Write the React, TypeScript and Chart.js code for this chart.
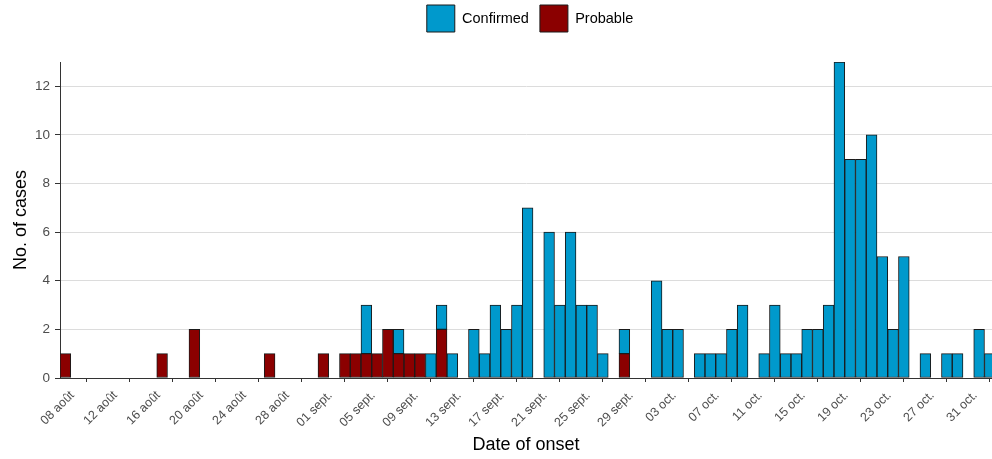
import React, { useEffect, useRef } from "react";
import { Chart, registerables } from "chart.js";

Chart.register(...registerables);

// One entry per day of onset, from 08 Aug to 02 Nov
const dayLabels = [
  "08 août", "09 août", "10 août", "11 août", "12 août", "13 août", "14 août", "15 août",
  "16 août", "17 août", "18 août", "19 août", "20 août", "21 août", "22 août", "23 août",
  "24 août", "25 août", "26 août", "27 août", "28 août", "29 août", "30 août", "31 août",
  "01 sept.", "02 sept.", "03 sept.", "04 sept.", "05 sept.", "06 sept.", "07 sept.", "08 sept.",
  "09 sept.", "10 sept.", "11 sept.", "12 sept.", "13 sept.", "14 sept.", "15 sept.", "16 sept.",
  "17 sept.", "18 sept.", "19 sept.", "20 sept.", "21 sept.", "22 sept.", "23 sept.", "24 sept.",
  "25 sept.", "26 sept.", "27 sept.", "28 sept.", "29 sept.", "30 sept.",
  "01 oct.", "02 oct.", "03 oct.", "04 oct.", "05 oct.", "06 oct.", "07 oct.", "08 oct.",
  "09 oct.", "10 oct.", "11 oct.", "12 oct.", "13 oct.", "14 oct.", "15 oct.", "16 oct.",
  "17 oct.", "18 oct.", "19 oct.", "20 oct.", "21 oct.", "22 oct.", "23 oct.", "24 oct.",
  "25 oct.", "26 oct.", "27 oct.", "28 oct.", "29 oct.", "30 oct.", "31 oct.",
  "01 nov.", "02 nov.",
];

const probable = [
  1, 0, 0, 0, 0, 0, 0, 0, 0, 1,
  0, 0, 2, 0, 0, 0, 0, 0, 0, 1,
  0, 0, 0, 0, 1, 0, 1, 1, 1, 1,
  2, 1, 1, 1, 0, 2, 0, 0, 0, 0,
  0, 0, 0, 0, 0, 0, 0, 0, 0, 0,
  0, 0, 1, 0, 0, 0, 0, 0, 0, 0,
  0, 0, 0, 0, 0, 0, 0, 0, 0, 0,
  0, 0, 0, 0, 0, 0, 0, 0, 0, 0,
  0, 0, 0, 0, 0, 0, 0,
];

const confirmed = [
  0, 0, 0, 0, 0, 0, 0, 0, 0, 0,
  0, 0, 0, 0, 0, 0, 0, 0, 0, 0,
  0, 0, 0, 0, 0, 0, 0, 0, 2, 0,
  0, 1, 0, 0, 1, 1, 1, 0, 2, 1,
  3, 2, 3, 7, 0, 6, 3, 6, 3, 3,
  1, 0, 1, 0, 0, 4, 2, 2, 0, 1,
  1, 1, 2, 3, 0, 1, 3, 1, 1, 2,
  2, 3, 13, 9, 9, 10, 5, 2, 5, 0,
  1, 0, 1, 1, 0, 2, 1,
];

const tickLabels = [
  "08 août", "12 août", "16 août", "20 août", "24 août", "28 août",
  "01 sept.", "05 sept.", "09 sept.", "13 sept.", "17 sept.", "21 sept.", "25 sept.", "29 sept.",
  "03 oct.", "07 oct.", "11 oct.", "15 oct.", "19 oct.", "23 oct.", "27 oct.", "31 oct.",
];

const FONT = "'Liberation Sans', Arial, Helvetica, sans-serif";

export default function App() {
  const ref = useRef<HTMLCanvasElement | null>(null);

  useEffect(() => {
    document.body.style.margin = "0";
    const canvas = ref.current;
    if (!canvas) return;

    const toPoints = (arr: number[]) =>
      arr.map((v, i) => ({ x: i, y: v === 0 ? null : v }));

    const tickIdx = tickLabels.map((t) => dayLabels.indexOf(t));

    const legendPlacement = {
      id: "legendPlacement",
      beforeInit(chart: any) {
        const legend = chart.legend;
        if (!legend) return;
        const orig = legend.fit;
        legend.fit = function () {
          orig.call(this);
          this.height = 62;
        };
      },
      afterLayout(chart: any) {
        const legend = chart.legend;
        if (!legend) return;
        legend.top -= 6;
        legend.left += 4;
        legend.right += 4;
      },
    };

    const chart = new Chart(canvas, {
      type: "bar",
      data: {
        datasets: [
          {
            label: "Probable",
            data: toPoints(probable) as any,
            backgroundColor: "#8B0000",
            borderColor: "#1a1a1a",
            borderWidth: 1,
            borderSkipped: false,
            barPercentage: 1,
            categoryPercentage: 1,
          },
          {
            label: "Confirmed",
            data: toPoints(confirmed) as any,
            backgroundColor: "#0099CC",
            borderColor: "#1a1a1a",
            borderWidth: 1,
            borderSkipped: false,
            barPercentage: 1,
            categoryPercentage: 1,
          },
        ],
      },
      options: {
        animation: false,
        responsive: false,
        maintainAspectRatio: false,
        layout: { padding: 0 },
        plugins: {
          legend: {
            position: "top",
            fullSize: false,
            reverse: true,
            labels: {
              boxWidth: 28,
              boxHeight: 27,
              padding: 11,
              color: "#000",
              font: { family: FONT, size: 14.5 },
            },
          },
          tooltip: { enabled: false },
        },
        scales: {
          x: {
            type: "linear",
            stacked: true,
            min: -0.5,
            max: 86.2,
            offset: false,
            afterFit: (scale: any) => {
              scale.height = 81;
            },
            afterBuildTicks: (scale: any) => {
              scale.ticks = tickIdx.map((v) => ({ value: v }));
            },
            ticks: {
              autoSkip: false,
              minRotation: 45,
              maxRotation: 45,
              padding: 6,
              labelOffset: 7,
              color: "#4d4d4d",
              font: { family: FONT, size: 12.5 },
              callback: (value: any) => {
                const i = tickIdx.indexOf(Number(value));
                return i >= 0 ? tickLabels[i] : "";
              },
            },
            grid: {
              drawOnChartArea: false,
              drawTicks: true,
              tickLength: 4,
              tickColor: "#333",
            },
            border: { display: true, color: "#333", width: 1 },
            title: {
              display: true,
              text: "Date of onset",
              color: "#000",
              font: { family: FONT, size: 18 },
              padding: { top: 0, bottom: 3 },
            },
          },
          y: {
            stacked: true,
            min: 0,
            max: 13,
            afterFit: (scale: any) => {
              scale.width = 60;
            },
            ticks: {
              stepSize: 2,
              includeBounds: false,
              padding: 5,
              color: "#4d4d4d",
              font: { family: FONT, size: 13.5 },
            },
            grid: {
              color: "#dcdcdc",
              lineWidth: 1,
              drawTicks: true,
              tickLength: 5,
              tickColor: "#333",
            },
            border: { display: true, color: "#333", width: 1 },
            title: {
              display: true,
              text: "No. of cases",
              color: "#000",
              font: { family: FONT, size: 18 },
              padding: { top: 10, bottom: 0 },
            },
          },
        },
      },
      plugins: [legendPlacement],
    });

    return () => chart.destroy();
  }, []);

  return (
    <div style={{ width: 992, height: 459, position: "relative", background: "#fff" }}>
      <canvas ref={ref} width={992} height={459} style={{ display: "block" }} />
    </div>
  );
}
